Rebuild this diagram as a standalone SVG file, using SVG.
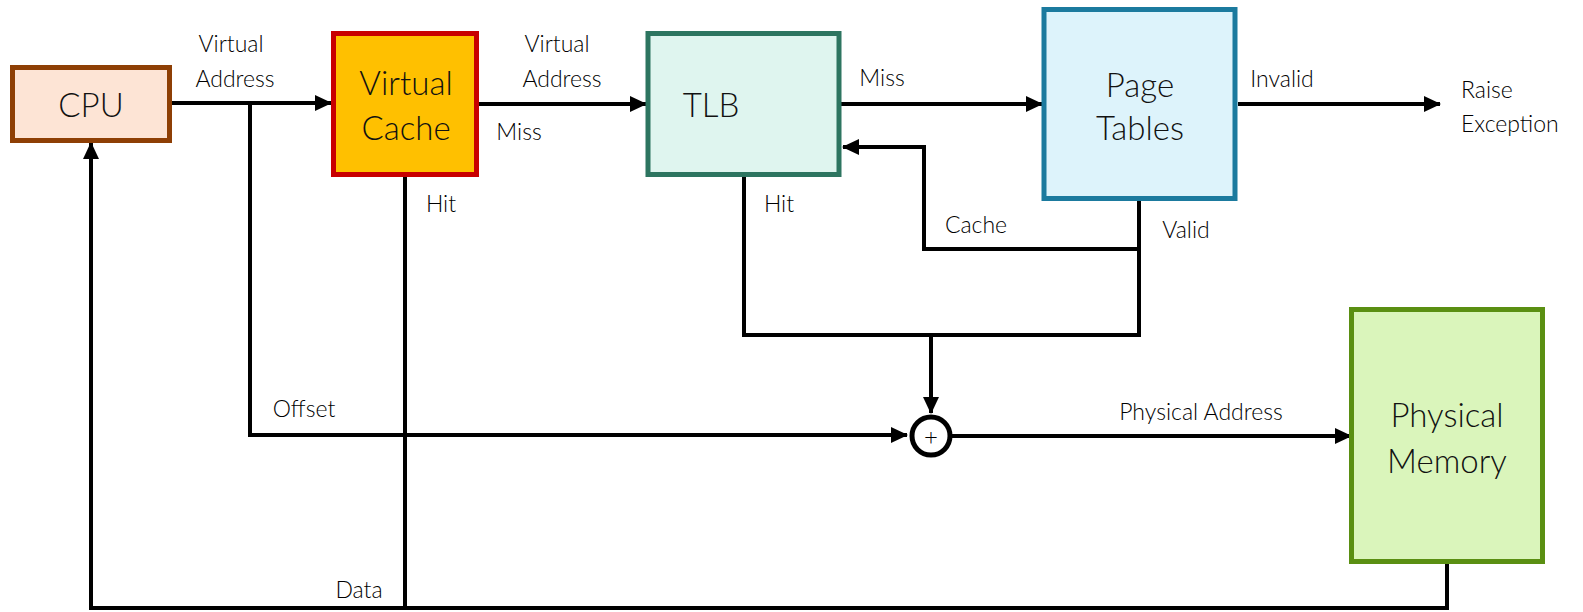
<svg xmlns="http://www.w3.org/2000/svg" width="1583" height="612" viewBox="0 0 1583 612">
<style>
.lbl{font-family:Lato,"Liberation Sans",sans-serif;font-weight:300;font-size:23px;fill:#000;dominant-baseline:central}
.nl{font-family:Lato,"Liberation Sans",sans-serif;font-weight:300;font-size:33px;fill:#111;text-anchor:middle;dominant-baseline:central}
.c{text-anchor:middle}
.w{fill:none;stroke:#000;stroke-width:4}
</style>
<defs>
<marker id="ah" markerUnits="userSpaceOnUse" markerWidth="17" markerHeight="16" refX="16" refY="8" orient="auto">
<path d="M0,0 L17,8 L0,16 Z" fill="#000"/>
</marker>
</defs>
<g id="connectors">
<path class="w" d="M172,103 H331" marker-end="url(#ah)"/>
<path class="w" d="M250,103 V435 H907" marker-end="url(#ah)"/>
<path class="w" d="M479,104 H646" marker-end="url(#ah)"/>
<path class="w" d="M841,104 H1042" marker-end="url(#ah)"/>
<path class="w" d="M1238,104 H1440" marker-end="url(#ah)"/>
<path class="w" d="M1139,249 H924 V147 H843" marker-end="url(#ah)"/>
<path class="w" d="M1139,201 V335 H744 V177"/>
<path class="w" d="M931,335 V413" marker-end="url(#ah)"/>
<path class="w" d="M952,436 H1351" marker-end="url(#ah)"/>
<path class="w" d="M405,177 V608"/>
<path class="w" d="M1447,564 V608 H91 V143" marker-end="url(#ah)"/>
<circle cx="931" cy="436" r="19" fill="#fff" stroke="#000" stroke-width="5"/>
<text x="931" y="435" style="font-family:Lato,'Liberation Sans',sans-serif;font-weight:300;font-size:24px;text-anchor:middle;dominant-baseline:central">+</text>
</g>
<g id="labels">
<text class="lbl c" x="231" y="43">Virtual</text>
<text class="lbl c" x="235" y="78">Address</text>
<text class="lbl c" x="557" y="43">Virtual</text>
<text class="lbl c" x="562" y="78">Address</text>
<text class="lbl c" x="519" y="131">Miss</text>
<text class="lbl c" x="882" y="77">Miss</text>
<text class="lbl c" x="1282" y="78">Invalid</text>
<text class="lbl" x="1461" y="89">Raise</text>
<text class="lbl" x="1461" y="123">Exception</text>
<text class="lbl c" x="441" y="203">Hit</text>
<text class="lbl c" x="779" y="203">Hit</text>
<text class="lbl c" x="976" y="224">Cache</text>
<text class="lbl c" x="1186" y="229">Valid</text>
<text class="lbl c" x="304" y="408">Offset</text>
<text class="lbl c" x="1201" y="411">Physical Address</text>
<text class="lbl c" x="359" y="589">Data</text>
</g>
<g id="cpu">
<rect x="12.5" y="67.5" width="157" height="73" fill="#FDE4D5" stroke="#8E3F05" stroke-width="5"/>
<text class="nl" x="91" y="104">CPU</text>
</g>
<g id="virtual-cache">
<rect x="333.5" y="33.5" width="143" height="141" fill="#FFC000" stroke="#C80000" stroke-width="5"/>
<text class="nl" x="406" y="82">Virtual</text>
<text class="nl" x="406" y="127">Cache</text>
</g>
<g id="tlb">
<rect x="648" y="33.5" width="191" height="141" fill="#DFF5EF" stroke="#2D7560" stroke-width="5"/>
<text class="nl" x="711" y="104">TLB</text>
</g>
<g id="page-tables">
<rect x="1044" y="9.5" width="191" height="189" fill="#DDF3FB" stroke="#1B7A9E" stroke-width="5"/>
<text class="nl" x="1140" y="84">Page</text>
<text class="nl" x="1140" y="127">Tables</text>
</g>
<g id="physical-memory">
<rect x="1351.5" y="309.5" width="191" height="252" fill="#DAF5BB" stroke="#5A8F12" stroke-width="5"/>
<text class="nl" x="1447" y="414">Physical</text>
<text class="nl" x="1447" y="460">Memory</text>
</g>
</svg>
